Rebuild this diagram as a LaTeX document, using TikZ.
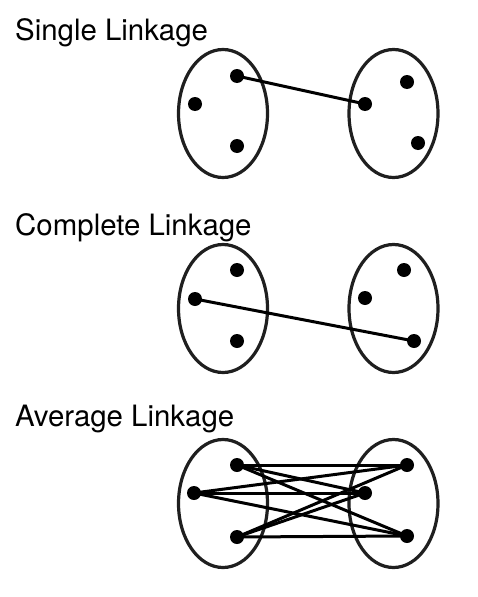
\documentclass[tikz,border=0pt]{standalone}
\usepackage{fontspec}
\setmainfont{TeX Gyre Heros}
\usetikzlibrary{shapes.geometric}
\begin{document}
\begin{tikzpicture}[x=1pt,y=-1pt,
  cluster/.style={draw=black!88,ellipse,line width=3.2pt,minimum width=89pt,minimum height=128pt,inner sep=0pt},
  pt/.style={circle,fill=black,inner sep=0pt,minimum size=14pt},
  link/.style={line width=3pt,black},
  title/.style={anchor=base west,inner sep=0pt,font=\fontsize{29.4}{35}\selectfont}]
\useasboundingbox (0,0) rectangle (477,597);
% Single linkage
\node[title] (t1) at (15,40.5) {Single Linkage};
\node[cluster] (sl) at (223,113.5) {};
\node[cluster] (sr) at (393.5,113.5) {};
\node[pt] (sa1) at (237,76) {};
\node[pt] (sa2) at (195,104) {};
\node[pt] (sa3) at (237,146) {};
\node[pt] (sb1) at (407,82) {};
\node[pt] (sb2) at (365,104) {};
\node[pt] (sb3) at (418,143) {};
\draw[link] (sa1.center) -- (sb2.center);
% Complete linkage
\node[title] (t2) at (15,235.5) {Complete Linkage};
\node[cluster] (cl) at (223,308.5) {};
\node[cluster] (cr) at (393.5,308.5) {};
\node[pt] (ca1) at (237,270) {};
\node[pt] (ca2) at (195,299) {};
\node[pt] (ca3) at (237,341) {};
\node[pt] (cb1) at (404,270) {};
\node[pt] (cb2) at (365,298) {};
\node[pt] (cb3) at (414,341) {};
\draw[link] (ca2.center) -- (cb3.center);
% Average linkage
\node[title] (t3) at (15,426.5) {Average Linkage};
\node[cluster] (al) at (223,503.5) {};
\node[cluster] (ar) at (393.5,503.5) {};
\node[pt] (aa1) at (237,465) {};
\node[pt] (aa2) at (194,493) {};
\node[pt] (aa3) at (237,537) {};
\node[pt] (ab1) at (407,465) {};
\node[pt] (ab2) at (365,493) {};
\node[pt] (ab3) at (407,536) {};
\foreach \i in {1,2,3}{
  \foreach \j in {1,2,3}{
    \draw[link] (aa\i.center) -- (ab\j.center);
  }
}
\end{tikzpicture}
\end{document}
